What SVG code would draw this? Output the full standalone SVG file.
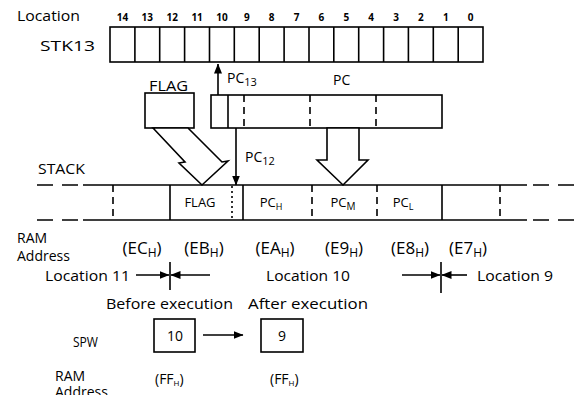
<svg xmlns="http://www.w3.org/2000/svg" width="583" height="395" viewBox="0 0 583 395">
<style>
text{font-family:"Open Sans","Liberation Sans",sans-serif;fill:#000}
.ln{stroke:#000;stroke-width:1.6;fill:none}
.box{stroke:#000;stroke-width:1.6;fill:#fff}
.dash{stroke:#000;stroke-width:1.6;stroke-dasharray:7,5;fill:none}
.dot{stroke:#000;stroke-width:1.6;stroke-dasharray:2,3;fill:none}
.hdash{stroke:#000;stroke-width:1.6;stroke-dasharray:16,9;fill:none}
.num{font-size:10px;font-weight:bold;text-anchor:middle}
.lbl{font-size:14px}
.addr{font-size:17px;text-anchor:middle}
.cell{font-size:13px;text-anchor:middle}
</style>
<defs>
<marker id="ah" viewBox="0 0 10 8" refX="9.5" refY="4" markerWidth="10" markerHeight="8" markerUnits="userSpaceOnUse" orient="auto">
<path d="M0,0 L10,4 L0,8 Z" fill="#000"/>
</marker>
</defs>

<g id="labels">
<text class="lbl" x="17" y="21" font-size="15" textLength="63" lengthAdjust="spacingAndGlyphs">Location</text>
<text class="lbl" x="40" y="51" font-size="16" textLength="55" lengthAdjust="spacingAndGlyphs">STK13</text>
<text class="lbl" x="38" y="174" font-size="14" textLength="47" lengthAdjust="spacingAndGlyphs">STACK</text>
<text class="lbl" x="17" y="243" font-size="15">RAM</text>
<text class="lbl" x="17" y="261" font-size="15">Address</text>
<text class="lbl" x="55" y="381" font-size="14">RAM</text>
<text class="lbl" x="55" y="397" font-size="14">Address</text>
</g>

<g id="stk13">
<rect class="box" x="110" y="27" width="373" height="35"/>
<path class="ln" d="M134.9,27V62M159.7,27V62M184.6,27V62M209.5,27V62M234.3,27V62M259.2,27V62M284.1,27V62M309,27V62M333.8,27V62M358.7,27V62M383.6,27V62M408.4,27V62M433.3,27V62M458.2,27V62"/>
<text class="num" x="122.4" y="21">14</text>
<text class="num" x="147.3" y="21">13</text>
<text class="num" x="172.2" y="21">12</text>
<text class="num" x="197.1" y="21">11</text>
<text class="num" x="221.9" y="21">10</text>
<text class="num" x="246.8" y="21">9</text>
<text class="num" x="271.7" y="21">8</text>
<text class="num" x="296.5" y="21">7</text>
<text class="num" x="321.4" y="21">6</text>
<text class="num" x="346.3" y="21">5</text>
<text class="num" x="371.2" y="21">4</text>
<text class="num" x="396" y="21">3</text>
<text class="num" x="420.9" y="21">2</text>
<text class="num" x="445.8" y="21">1</text>
<text class="num" x="470.6" y="21">0</text>
</g>

<g id="flag">
<rect class="box" x="145" y="93" width="49" height="35"/>
<text class="lbl" x="149" y="91" font-size="15" textLength="39" lengthAdjust="spacingAndGlyphs">FLAG</text>
</g>

<g id="pc">
<rect class="box" x="211" y="95" width="231" height="33"/>
<path class="ln" d="M228,95V128"/>
<path class="dash" d="M244,95V128M310,95V128M376,95V128"/>
<text class="lbl" x="333" y="85" font-size="15">PC</text>
</g>

<g id="stack">
<path class="hdash" d="M37,185H83M37,220H83M533,185H583M533,220H583"/>
<path class="ln" d="M83,185H527M83,220H527"/>
<path class="dash" d="M113,185V220M312,185V220M377,185V220M500,185V220"/>
<path class="dot" d="M232,186V220"/>
<path class="ln" d="M170,185V220M243,185V220M442,185V220"/>
<text class="cell" x="200" y="207">FLAG</text>
<text class="cell" x="271" y="207">PC<tspan font-size="9" dy="3">H</tspan></text>
<text class="cell" x="343" y="207">PC<tspan font-size="10" dy="3">M</tspan></text>
<text class="cell" x="403" y="207">PC<tspan font-size="9" dy="3">L</tspan></text>
</g>

<g id="addresses">
<text class="addr" x="142" y="254">(EC<tspan font-size="12" dy="3">H</tspan><tspan dy="-3">)</tspan></text>
<text class="addr" x="204" y="254">(EB<tspan font-size="12" dy="3">H</tspan><tspan dy="-3">)</tspan></text>
<text class="addr" x="275" y="254">(EA<tspan font-size="12" dy="3">H</tspan><tspan dy="-3">)</tspan></text>
<text class="addr" x="344" y="254">(E9<tspan font-size="12" dy="3">H</tspan><tspan dy="-3">)</tspan></text>
<text class="addr" x="410" y="254">(E8<tspan font-size="12" dy="3">H</tspan><tspan dy="-3">)</tspan></text>
<text class="addr" x="468" y="254">(E7<tspan font-size="12" dy="3">H</tspan><tspan dy="-3">)</tspan></text>
</g>

<g id="locations">
<text class="lbl" x="45" y="281" textLength="85" lengthAdjust="spacingAndGlyphs">Location 11</text>
<text class="lbl" x="266" y="281" textLength="84" lengthAdjust="spacingAndGlyphs">Location 10</text>
<text class="lbl" x="477" y="281" textLength="76" lengthAdjust="spacingAndGlyphs">Location 9</text>
<text class="lbl" x="106" y="309" font-size="15" textLength="127" lengthAdjust="spacingAndGlyphs">Before execution</text>
<text class="lbl" x="248" y="309" font-size="15" textLength="120" lengthAdjust="spacingAndGlyphs">After execution</text>
</g>

<g id="spw">
<text class="lbl" x="73" y="347" textLength="25" lengthAdjust="spacingAndGlyphs">SPW</text>
<rect class="box" x="154" y="319" width="41" height="33"/>
<text class="lbl" x="175" y="341" font-size="15" text-anchor="middle">10</text>
<rect class="box" x="261" y="319" width="42" height="33"/>
<text class="lbl" x="282" y="341" font-size="15" text-anchor="middle">9</text>
<text class="lbl" x="155" y="384" font-size="13">(FF<tspan font-size="8" dy="2">H</tspan><tspan dy="-2">)</tspan></text>
<text class="lbl" x="270" y="384" font-size="13">(FF<tspan font-size="8" dy="2">H</tspan><tspan dy="-2">)</tspan></text>
</g>

<g id="connectors">
<path class="ln" d="M218,95V64" marker-end="url(#ah)"/>
<text class="lbl" x="227" y="83" font-size="15">PC<tspan font-size="11" dy="3">13</tspan></text>
<path class="ln" d="M236,128V185" marker-end="url(#ah)"/>
<text class="lbl" x="245" y="162" font-size="15">PC<tspan font-size="11" dy="3">12</tspan></text>
<polygon class="box" points="153,128 185,162 179,163 202,185 228,161 222,162 188,128"/>
<polygon class="box" points="327,128 327,160 317,160 343,185 368,160 359,160 359,128"/>
<path class="ln" d="M136,275H169" marker-end="url(#ah)"/>
<path class="ln" d="M210,275H171" marker-end="url(#ah)"/>
<path class="ln" d="M170,262V290"/>
<path class="ln" d="M402,275H440" marker-end="url(#ah)"/>
<path class="ln" d="M467,275H442" marker-end="url(#ah)"/>
<path class="ln" d="M441,262V293"/>
<path class="ln" d="M203,335H243" marker-end="url(#ah)"/>
</g>
</svg>
